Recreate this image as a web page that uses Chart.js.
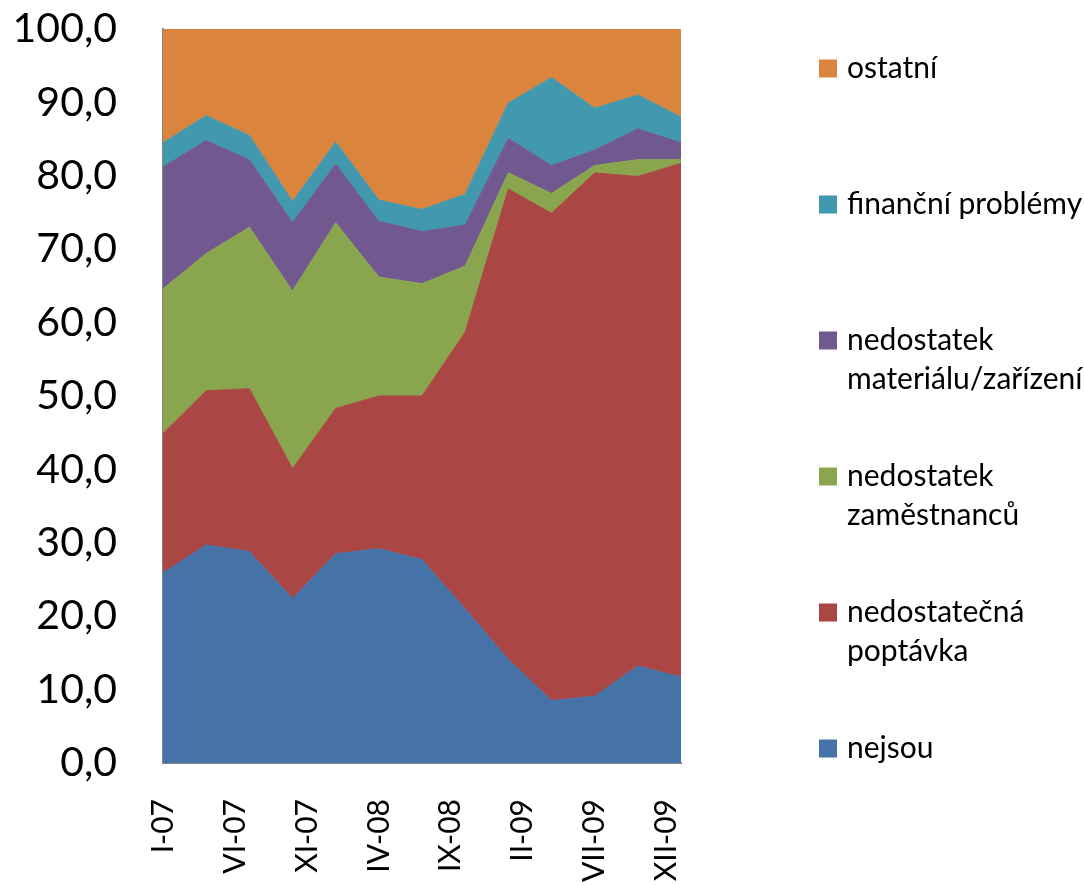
<!DOCTYPE html>
<html>
<head>
<meta charset="utf-8">
<script src="https://cdn.jsdelivr.net/npm/chart.js@4.4.1/dist/chart.umd.min.js"></script>
<style>
  html, body { margin: 0; padding: 0; background: #fff; }
  #wrap { width: 1084px; height: 885px; position: relative; }
</style>
</head>
<body>
<div id="wrap"><canvas id="myChart"></canvas></div>
<script>
// období (čtvrtletí) a popisky osy x
var periods = ["I-07", "IV-07", "VII-07", "X-07", "I-08", "IV-08", "VII-08", "X-08", "I-09", "IV-09", "VII-09", "X-09", "I-10"];
var tickLabels = ["I-07", "VI-07", "XI-07", "IV-08", "IX-08", "II-09", "VII-09", "XII-09"];

// řady (%)
var nejsou = [25.9, 29.7, 28.8, 22.4, 28.5, 29.2, 27.7, 21.0, 14.1, 8.5, 9.1, 13.2, 11.7];
var poptavka = [19.0, 21.0, 22.2, 17.7, 19.8, 20.8, 22.3, 37.7, 64.1, 66.4, 71.3, 66.7, 70.0];
var zamestnanci = [19.7, 18.7, 22.0, 24.2, 25.3, 16.2, 15.3, 9.0, 2.2, 2.7, 1.0, 2.3, 0.5];
var material = [16.6, 15.4, 9.2, 9.3, 8.0, 7.6, 7.1, 5.6, 4.7, 3.8, 2.1, 4.2, 2.3];
var financni = [3.3, 3.4, 3.3, 2.9, 3.0, 2.9, 3.0, 4.2, 4.8, 12.0, 5.7, 4.6, 3.5];
var ostatni = [15.5, 11.8, 14.5, 23.5, 15.4, 23.3, 24.6, 22.5, 10.1, 6.6, 10.8, 9.0, 12.0];

var romans = ["I", "II", "III", "IV", "V", "VI", "VII", "VIII", "IX", "X", "XI", "XII"];

function monthIndex(label) {
    var parts = label.split("-");
    return (parseInt(parts[1], 10) - 7) * 12 + romans.indexOf(parts[0]);
}

function monthLabel(idx) {
    var y = 7 + Math.floor(idx / 12);
    return romans[idx % 12] + "-" + (y < 10 ? "0" + y : y);
}

function points(values) {
    return values.map(function (v, i) {
        return { x: monthIndex(periods[i]), y: v };
    });
}

function series(label, values, color, fill) {
    return {
        label: label,
        data: points(values),
        backgroundColor: color,
        borderColor: color,
        borderWidth: 1,
        pointRadius: 0,
        tension: 0,
        fill: fill,
    };
}

// legenda vpravo, zalomení textu jako v Excelu
function wrapText(ctx, text, maxWidth) {
    var words = text.split(" ");
    var lines = [];
    var line = "";
    words.forEach(function (w) {
        var test = line ? line + " " + w : w;
        if (line && ctx.measureText(test).width > maxWidth) {
            lines.push(line);
            line = w;
        } else {
            line = test;
        }
    });
    lines.push(line);
    return lines;
}

var sideLegend = {
    id: "sideLegend",
    afterDraw: function (chart, args, opts) {
        var ctx = chart.ctx;
        var ds = chart.data.datasets;
        ctx.save();
        ctx.font = opts.font;
        ctx.textBaseline = "middle";
        ctx.textAlign = "left";
        for (var k = 0; k < ds.length; k++) {
            var d = ds[ds.length - 1 - k];
            var y = opts.top + k * opts.spacing;
            ctx.fillStyle = d.backgroundColor;
            ctx.fillRect(opts.x, y - opts.box / 2, opts.box, opts.box);
            ctx.fillStyle = "#000";
            wrapText(ctx, d.label, opts.maxWidth).forEach(function (line, j) {
                ctx.fillText(line, opts.x + opts.textGap, y + j * opts.lineHeight);
            });
        }
        ctx.restore();
    },
};

Chart.defaults.font.family = "Lato";
Chart.defaults.color = "#000";

var ctx = document.getElementById("myChart").getContext("2d");
var myChart = new Chart(ctx, {
    type: "line",
    data: {
        datasets: [
            series("nejsou", nejsou, "#4572A7", "origin"),
            series("nedostatečná poptávka", poptavka, "#AA4643", "-1"),
            series("nedostatek zaměstnanců", zamestnanci, "#89A54E", "-1"),
            series("nedostatek materiálu/zařízení", material, "#71588F", "-1"),
            series("finanční problémy", financni, "#4198AF", "-1"),
            series("ostatní", ostatni, "#DB843D", "-1"),
        ],
    },
    options: {
        responsive: true,
        maintainAspectRatio: false,
        animation: false,
        layout: {
            padding: { top: 29, right: 403, left: 0, bottom: 0 },
        },
        plugins: {
            legend: { display: false },
            tooltip: { enabled: false },
            sideLegend: {
                x: 819,
                top: 68.5,
                spacing: 136,
                box: 18,
                textGap: 28,
                lineHeight: 39,
                maxWidth: 250,
                font: "30px Lato",
            },
        },
        scales: {
            x: {
                type: "linear",
                min: monthIndex(periods[0]),
                max: monthIndex(periods[periods.length - 1]),
                z: 1,
                // mřížka skrytá, délka "ticku" slouží jen jako odsazení popisků
                grid: { display: false, drawTicks: true, tickLength: 36 },
                border: { display: true, color: "#868686", width: 2 },
                afterBuildTicks: function (scale) {
                    scale.ticks = tickLabels.map(function (t) {
                        return { value: monthIndex(t) };
                    });
                },
                afterFit: function (scale) {
                    scale.height = 122;
                },
                ticks: {
                    autoSkip: false,
                    minRotation: 90,
                    maxRotation: 90,
                    padding: 0,
                    font: { size: 30 },
                    callback: function (value) {
                        return monthLabel(value);
                    },
                },
            },
            y: {
                stacked: true,
                min: 0,
                max: 100,
                z: 1,
                grid: { display: false, drawTicks: true, tickLength: 46 },
                border: { display: true, color: "#868686", width: 2 },
                afterFit: function (scale) {
                    scale.width = 163;
                },
                ticks: {
                    stepSize: 10,
                    padding: 0,
                    font: { size: 41 },
                    callback: function (value) {
                        return value.toFixed(1).replace(".", ",");
                    },
                },
            },
        },
    },
    plugins: [sideLegend],
});
</script>
</body>
</html>
